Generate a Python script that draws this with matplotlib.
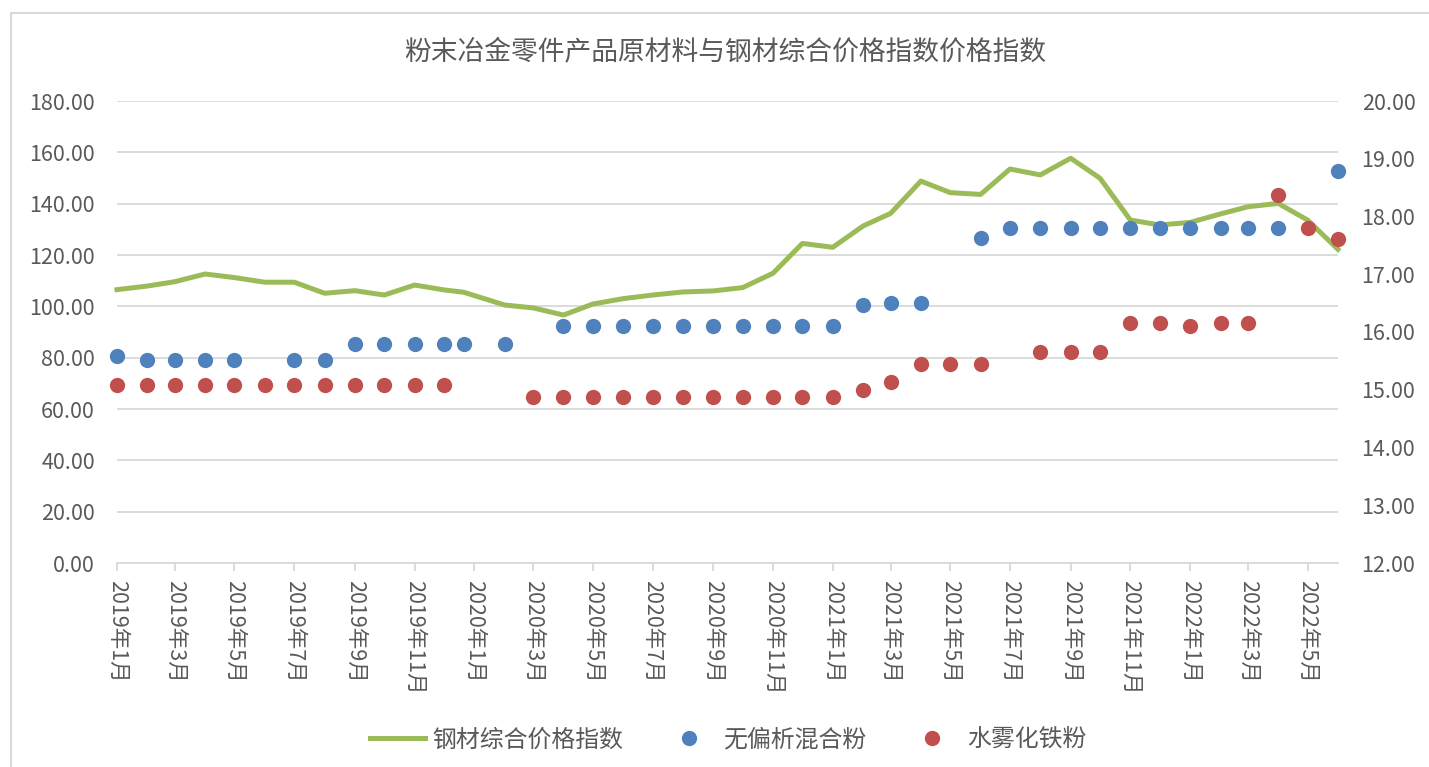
import matplotlib
matplotlib.use("Agg")
import matplotlib.pyplot as plt
from matplotlib.patches import Rectangle
from matplotlib.lines import Line2D
import numpy as np
import pandas as pd

plt.rcParams['font.family'] = ['Noto Sans CJK SC', 'DejaVu Sans']

nan = np.nan

# dates of the observations (one month is missing, one extra point in late Dec 2019)
dates = pd.to_datetime([
    "2019-01-01", "2019-02-01", "2019-03-01", "2019-04-01", "2019-05-01", "2019-06-01",
    "2019-07-01", "2019-08-01", "2019-09-01", "2019-10-01", "2019-11-01", "2019-12-01",
    "2019-12-21", "2020-02-01", "2020-03-01", "2020-04-01", "2020-05-01", "2020-06-01",
    "2020-07-01", "2020-08-01", "2020-09-01", "2020-10-01", "2020-11-01", "2020-12-01",
    "2021-01-01", "2021-02-01", "2021-03-01", "2021-04-01", "2021-05-01", "2021-06-01",
    "2021-07-01", "2021-08-01", "2021-09-01", "2021-10-01", "2021-11-01", "2021-12-01",
    "2022-01-01", "2022-02-01", "2022-03-01", "2022-04-01", "2022-05-01", "2022-06-01",
])

# 钢材综合价格指数 (left axis)
steel_index = [
    106.5, 107.9, 109.6, 112.6, 111.2, 109.4, 109.4, 105.1, 106.1, 104.4, 108.3, 106.4,
    105.5, 100.5, 99.4, 96.6, 100.9, 103.0, 104.4, 105.6, 106.0, 107.3, 112.9, 124.5,
    123.0, 131.3, 136.2, 148.8, 144.3, 143.6, 153.5, 151.2, 157.7, 149.9, 133.6, 131.7,
    132.7, 136.0, 138.8, 140.1, 133.6, 122.2,
]

# 无偏析混合粉 (right axis)
mixed_powder = [
    15.58, 15.52, 15.52, 15.52, 15.52, nan, 15.52, 15.52, 15.80, 15.80, 15.80, 15.80,
    15.80, 15.80, nan, 16.10, 16.10, 16.10, 16.10, 16.10, 16.10, 16.10, 16.10, 16.10,
    16.10, 16.46, 16.50, 16.50, nan, 17.62, 17.80, 17.80, 17.80, 17.80, 17.80, 17.80,
    17.80, 17.80, 17.80, 17.80, nan, 18.78,
]

# 水雾化铁粉 (right axis)
water_powder = [
    15.09, 15.09, 15.09, 15.09, 15.09, 15.09, 15.09, 15.09, 15.09, 15.09, 15.09, 15.09,
    nan, nan, 14.87, 14.87, 14.87, 14.87, 14.87, 14.87, 14.87, 14.87, 14.87, 14.87,
    14.87, 15.00, 15.13, 15.44, 15.44, 15.44, nan, 15.66, 15.66, 15.66, 16.16, 16.16,
    16.10, 16.16, 16.16, 18.37, 17.80, 17.61,
]

title = "粉末冶金零件产品原材料与钢材综合价格指数价格指数"
series_names = ["钢材综合价格指数", "无偏析混合粉", "水雾化铁粉"]
left_ticks = np.arange(0, 181, 20)
right_ticks = np.arange(12, 21, 1)
x_ticks = pd.date_range("2019-01-01", "2022-05-01", freq="2MS")

green = "#9BBB59"
blue = "#4F81BD"
red = "#C0504D"
text_col = "#595959"
grid_col = "#D9D9D9"

fig = plt.figure(figsize=(14.29, 7.67), dpi=100)
ax = fig.add_axes([117 / 1429, 1 - 563 / 767, (1338 - 117) / 1429, (563 - 101) / 767])
ax2 = ax.twinx()

ax.plot(dates, steel_index, color=green, linewidth=3.6, solid_joinstyle='round',
        zorder=3, clip_on=False)
ax2.plot(dates, mixed_powder, linestyle='none', marker='o', markersize=11,
         color=blue, markeredgewidth=0, zorder=4, clip_on=False)
ax2.plot(dates, water_powder, linestyle='none', marker='o', markersize=11,
         color=red, markeredgewidth=0, zorder=5, clip_on=False)

ax.set_ylim(0, 180)
ax2.set_ylim(12, 20)
ax.set_xlim(pd.Timestamp("2019-01-01"), pd.Timestamp("2022-06-01"))

ax.set_yticks(left_ticks)
ax.set_yticklabels([f"{v:.2f}" for v in left_ticks])
ax2.set_yticks(right_ticks)
ax2.set_yticklabels([f"{v:.2f}" for v in right_ticks])

ax.set_xticks(x_ticks)
ax.set_xticklabels([f"{d.year}年{d.month}月" for d in x_ticks], rotation=-90)

ax.grid(axis='y', color=grid_col, linewidth=1.3)
ax.set_axisbelow(True)

for a in (ax, ax2):
    for s in ("top", "left", "right", "bottom"):
        a.spines[s].set_visible(False)
ax.spines["bottom"].set_visible(True)
ax.spines["bottom"].set_color(grid_col)
ax.spines["bottom"].set_linewidth(1.3)

ax.tick_params(axis='y', length=0, pad=16, labelsize=15.5, labelcolor=text_col)
ax2.tick_params(axis='y', length=0, pad=17, labelsize=15.5, labelcolor=text_col)
ax.tick_params(axis='x', length=6, width=1.3, color=grid_col, pad=6,
               labelsize=15.5, labelcolor=text_col)

fig.text(725 / 1429, 1 - 52 / 767, title, ha='center', va='center',
         fontsize=19.3, color=text_col)

handles = [
    Line2D([], [], color=green, linewidth=3.6),
    Line2D([], [], linestyle='none', marker='o', markersize=11, color=blue, markeredgewidth=0),
    Line2D([], [], linestyle='none', marker='o', markersize=11, color=red, markeredgewidth=0),
]
leg = fig.legend(handles, series_names, loc='center', ncol=3, frameon=False,
                 bbox_to_anchor=(728 / 1429, 1 - 740 / 767), fontsize=17.2,
                 handlelength=2.3, handletextpad=0.3, columnspacing=1.6)
for t in leg.get_texts():
    t.set_color(text_col)

# outer chart border (right and bottom edges fall outside the image)
top = 1 - 13 / 767
fig.patches.append(Rectangle((11 / 1429, -0.2), 1.2, top + 0.2,
                             transform=fig.transFigure, fill=False,
                             edgecolor=grid_col, linewidth=1.5))

fig.savefig("out.png", dpi=100)
